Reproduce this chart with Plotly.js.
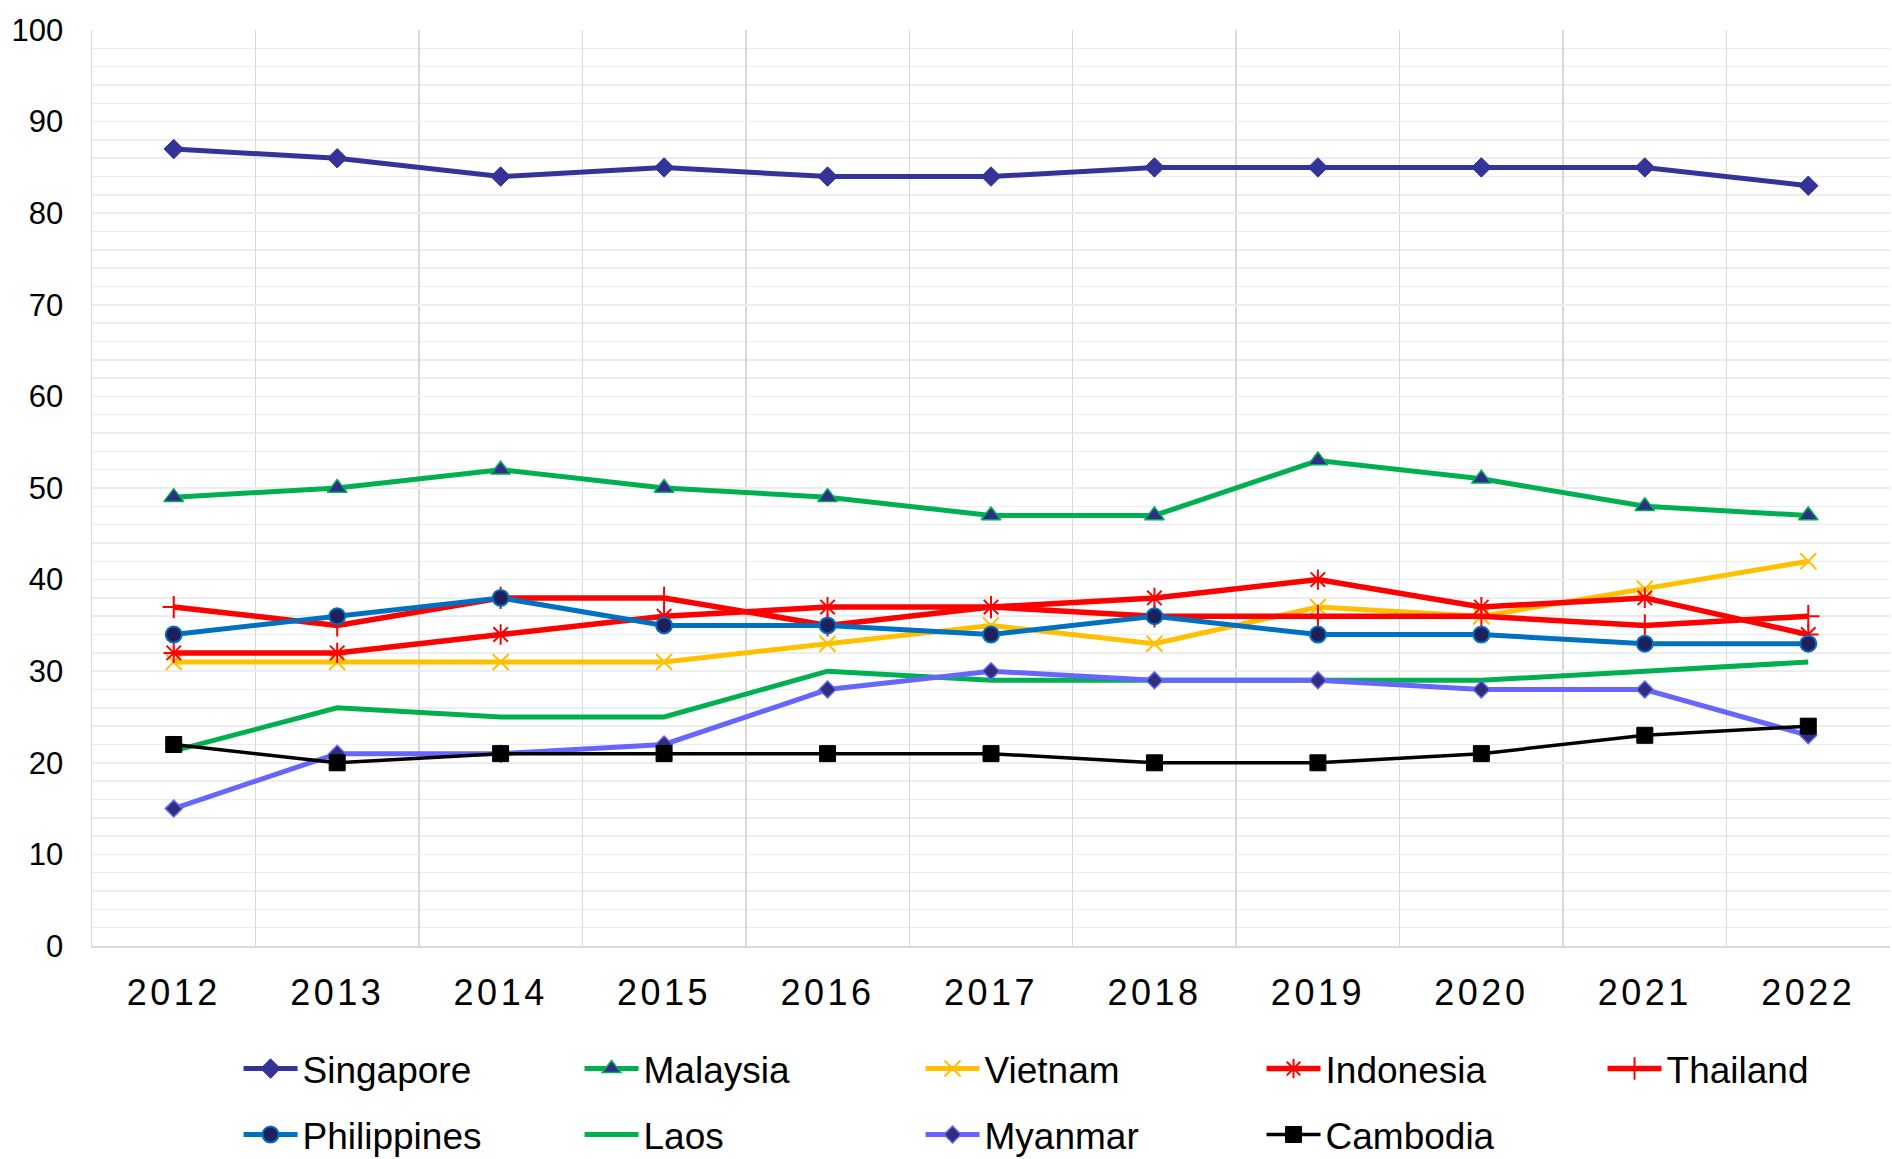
<!DOCTYPE html>
<html>
<head>
<meta charset="utf-8">
<script src="https://cdn.plot.ly/plotly-3.0.1.min.js"></script>
<style>
  html, body { margin: 0; padding: 0; background: #ffffff; }
  #chart { width: 1892px; height: 1159px; }
  .xtick text { letter-spacing: 3.5px; }
</style>
</head>
<body>
<div id="chart"></div>
<script>
const years = ["2012","2013","2014","2015","2016","2017","2018","2019","2020","2021","2022"];

const singapore   = [87, 86, 84, 85, 84, 84, 85, 85, 85, 85, 83];
const malaysia    = [49, 50, 52, 50, 49, 47, 47, 53, 51, 48, 47];
const vietnam     = [31, 31, 31, 31, 33, 35, 33, 37, 36, 39, 42];
const indonesia   = [32, 32, 34, 36, 37, 37, 38, 40, 37, 38, 34];
const thailand    = [37, 35, 38, 38, 35, 37, 36, 36, 36, 35, 36];
const philippines = [34, 36, 38, 35, 35, 34, 36, 34, 34, 33, 33];
const laos        = [21.3, 26, 25, 25, 30, 29, 29, 29, 29, 30, 31];
const myanmar     = [15, 21, 21, 22, 28, 30, 29, 29, 28, 28, 23];
const cambodia    = [22, 20, 21, 21, 21, 21, 20, 20, 21, 23, 24];

const yTicks = [0, 10, 20, 30, 40, 50, 60, 70, 80, 90, 100];

const FONT = 'Arial, "Liberation Sans", sans-serif';

function tr(name, y, lineColor, lineWidth, marker, legendId) {
  const t = {
    type: 'scatter',
    mode: marker ? 'lines+markers' : 'lines',
    name: name,
    x: years,
    y: y,
    legend: legendId,
    line: { color: lineColor, width: lineWidth },
    cliponaxis: false
  };
  if (marker) t.marker = marker;
  return t;
}

const data = [
  tr('Singapore', singapore, '#333399', 5,
     { symbol: 'diamond', size: 15, color: '#333399', line: { color: '#333399', width: 1 } }, 'legend'),
  tr('Malaysia', malaysia, '#00B050', 5,
     { symbol: 'triangle-up', size: 17, color: '#2E2E8A', line: { color: '#00B050', width: 1.5 } }, 'legend'),
  tr('Vietnam', vietnam, '#FFC000', 5,
     { symbol: 'x-thin-open', size: 16, color: '#FFC000', line: { color: '#FFC000', width: 2 } }, 'legend'),
  tr('Indonesia', indonesia, '#FF0000', 5.5,
     { symbol: 'asterisk-open', size: 17, color: '#FF0000', line: { color: '#FF0000', width: 2 } }, 'legend'),
  tr('Thailand', thailand, '#FF0000', 5.5,
     { symbol: 'cross-thin-open', size: 16, color: '#FF0000', line: { color: '#FF0000', width: 2 } }, 'legend'),
  tr('Philippines', philippines, '#0070C0', 5,
     { symbol: 'circle', size: 16, color: '#1F1F5C', line: { color: '#0070C0', width: 2 } }, 'legend2'),
  tr('Laos', laos, '#00B050', 5, null, 'legend2'),
  tr('Myanmar', myanmar, '#6666FF', 5,
     { symbol: 'diamond', size: 13, color: '#2E2E7A', line: { color: '#6666FF', width: 1.5 } }, 'legend2'),
  tr('Cambodia', cambodia, '#000000', 3.5,
     { symbol: 'square', size: 16, color: '#000000', line: { color: '#000000', width: 1 } }, 'legend2')
];

const legendBase = {
  orientation: 'h',
  x: 0.0815,
  xanchor: 'left',
  yanchor: 'middle',
  entrywidth: 272,
  entrywidthmode: 'pixels',
  itemwidth: 54,
  traceorder: 'normal',
  font: { family: FONT, size: 37, color: '#000000' },
  bgcolor: 'rgba(0,0,0,0)'
};

const layout = {
  width: 1892,
  height: 1159,
  paper_bgcolor: '#ffffff',
  plot_bgcolor: '#ffffff',
  font: { family: FONT, color: '#000000' },
  margin: { l: 92, r: 2, t: 30, b: 213, pad: 0, autoexpand: false },
  showlegend: true,
  xaxis: {
    type: 'category',
    categoryorder: 'array',
    categoryarray: years,
    range: [-0.5, 10.5],
    tickson: 'boundaries',
    showgrid: true,
    gridcolor: '#D9D9D9',
    gridwidth: 1.5,
    showline: true,
    linecolor: '#D9D9D9',
    linewidth: 1.5,
    ticks: '',
    ticklabelstandoff: 14,
    tickfont: { family: FONT, size: 36, color: '#000000' },
    zeroline: false,
    fixedrange: true
  },
  yaxis: {
    range: [0, 100],
    tickmode: 'array',
    tickvals: yTicks,
    ticktext: yTicks.map(String),
    showgrid: true,
    gridcolor: '#EDEDED',
    gridwidth: 1.5,
    minor: { dtick: 2, showgrid: true, gridcolor: '#EDEDED', gridwidth: 1.5, ticks: '' },
    showline: true,
    linecolor: '#D9D9D9',
    linewidth: 1.5,
    ticks: '',
    ticklabelstandoff: 21,
    tickfont: { family: FONT, size: 31, color: '#000000' },
    zeroline: false,
    fixedrange: true
  },
  legend: Object.assign({}, legendBase, { y: -0.1343 }),
  legend2: Object.assign({}, legendBase, { y: -0.2063 })
};

Plotly.newPlot('chart', data, layout, { displayModeBar: false, staticPlot: true });
</script>
</body>
</html>
